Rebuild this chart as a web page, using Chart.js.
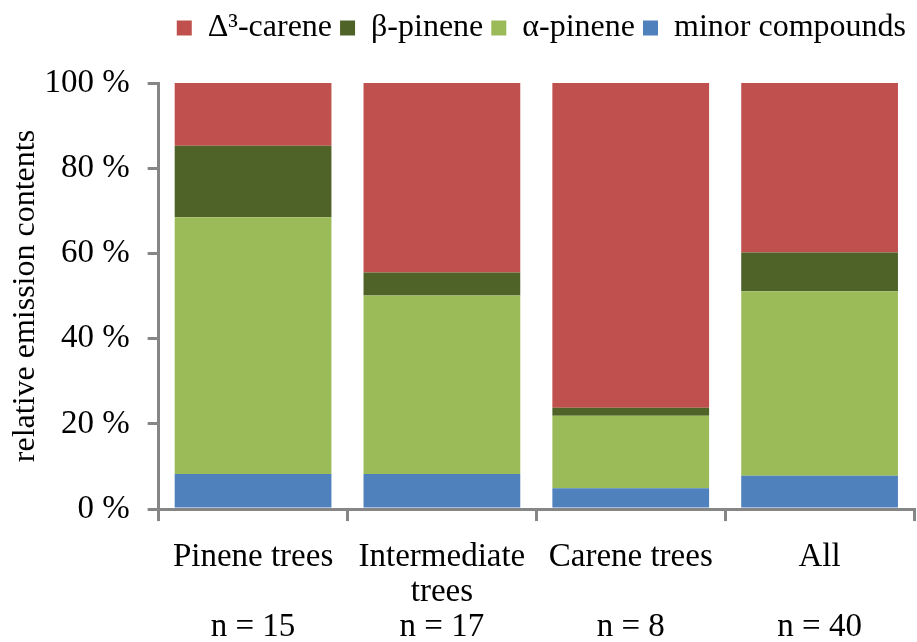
<!DOCTYPE html>
<html>
<head>
<meta charset="utf-8">
<script src="https://cdn.jsdelivr.net/npm/chart.js@4/dist/chart.umd.min.js"></script>
<style>
  html, body { margin: 0; padding: 0; background: #fff; }
  #wrap { width: 917px; height: 642px; }
</style>
</head>
<body>
<div id="wrap"><canvas id="myChart" width="917" height="642"></canvas></div>
<script>
// categories (multi-line labels) and the stacked shares, in percent
const categories = [
  ["Pinene trees", "", "n = 15"],
  ["Intermediate", "trees", "n = 17"],
  ["Carene trees", "", "n = 8"],
  ["All", "", "n = 40"]
];
const minorCompounds = [8.2, 8.2, 4.9, 7.8];
const alphaPinene = [60.3, 41.9, 17.0, 43.3];
const betaPinene = [16.8, 5.4, 1.9, 9.1];
const carene = [14.7, 44.5, 76.2, 39.8];
const yTicks = [0, 20, 40, 60, 80, 100];

const axisGray = "#868686";
const serif = "'Liberation Serif', 'Times New Roman', serif";

const ctx = document.getElementById("myChart").getContext("2d");
Chart.defaults.font.family = serif;
Chart.defaults.color = "#000";

// give the legend some extra room below it
const legendGap = {
  id: "legendGap",
  beforeInit(chart) {
    const fit = chart.legend.fit;
    chart.legend.fit = function () {
      fit.bind(chart.legend)();
      this.height += 29;
    };
  }
};

new Chart(ctx, {
  type: "bar",
  data: {
    labels: categories,
    datasets: [
      { label: "minor compounds", data: minorCompounds, backgroundColor: "#4F81BD" },
      { label: "\u03B1-pinene", data: alphaPinene, backgroundColor: "#9BBB59" },
      { label: "\u03B2-pinene", data: betaPinene, backgroundColor: "#4F6228" },
      { label: "\u0394\u00B3-carene", data: carene, backgroundColor: "#C0504D" }
    ]
  },
  plugins: [legendGap],
  options: {
    responsive: false,
    animation: false,
    layout: { padding: { left: 2, right: 3, top: 4, bottom: -22 } },
    datasets: {
      bar: { barPercentage: 0.83, categoryPercentage: 1.0, borderWidth: 0 }
    },
    plugins: {
      tooltip: { enabled: false },
      legend: {
        position: "top",
        align: "end",
        reverse: true,
        labels: {
          boxWidth: 15,
          boxHeight: 15,
          padding: 8,
          font: { size: 32 },
          color: "#000"
        }
      }
    },
    scales: {
      x: {
        stacked: true,
        offset: true,
        border: { color: axisGray, width: 3 },
        grid: {
          offset: true,
          drawOnChartArea: false,
          drawTicks: true,
          tickLength: 12,
          color: axisGray,
          lineWidth: 3
        },
        ticks: {
          font: { size: 33, lineHeight: 1.06 },
          color: "#000",
          padding: 19,
          maxRotation: 0,
          autoSkip: false
        }
      },
      y: {
        stacked: true,
        min: 0,
        max: 100,
        afterBuildTicks: (axis) => { axis.ticks = yTicks.map(v => ({ value: v })); },
        border: { color: axisGray, width: 3 },
        grid: {
          drawOnChartArea: false,
          drawTicks: true,
          tickLength: 11,
          color: axisGray,
          lineWidth: 3
        },
        ticks: {
          font: { size: 33 },
          color: "#000",
          padding: 18,
          callback: (v) => v + " %"
        },
        title: {
          display: true,
          text: "relative emission contents",
          font: { size: 32 },
          color: "#000",
          padding: { top: 4, bottom: -18 }
        }
      }
    }
  }
});
</script>
</body>
</html>
